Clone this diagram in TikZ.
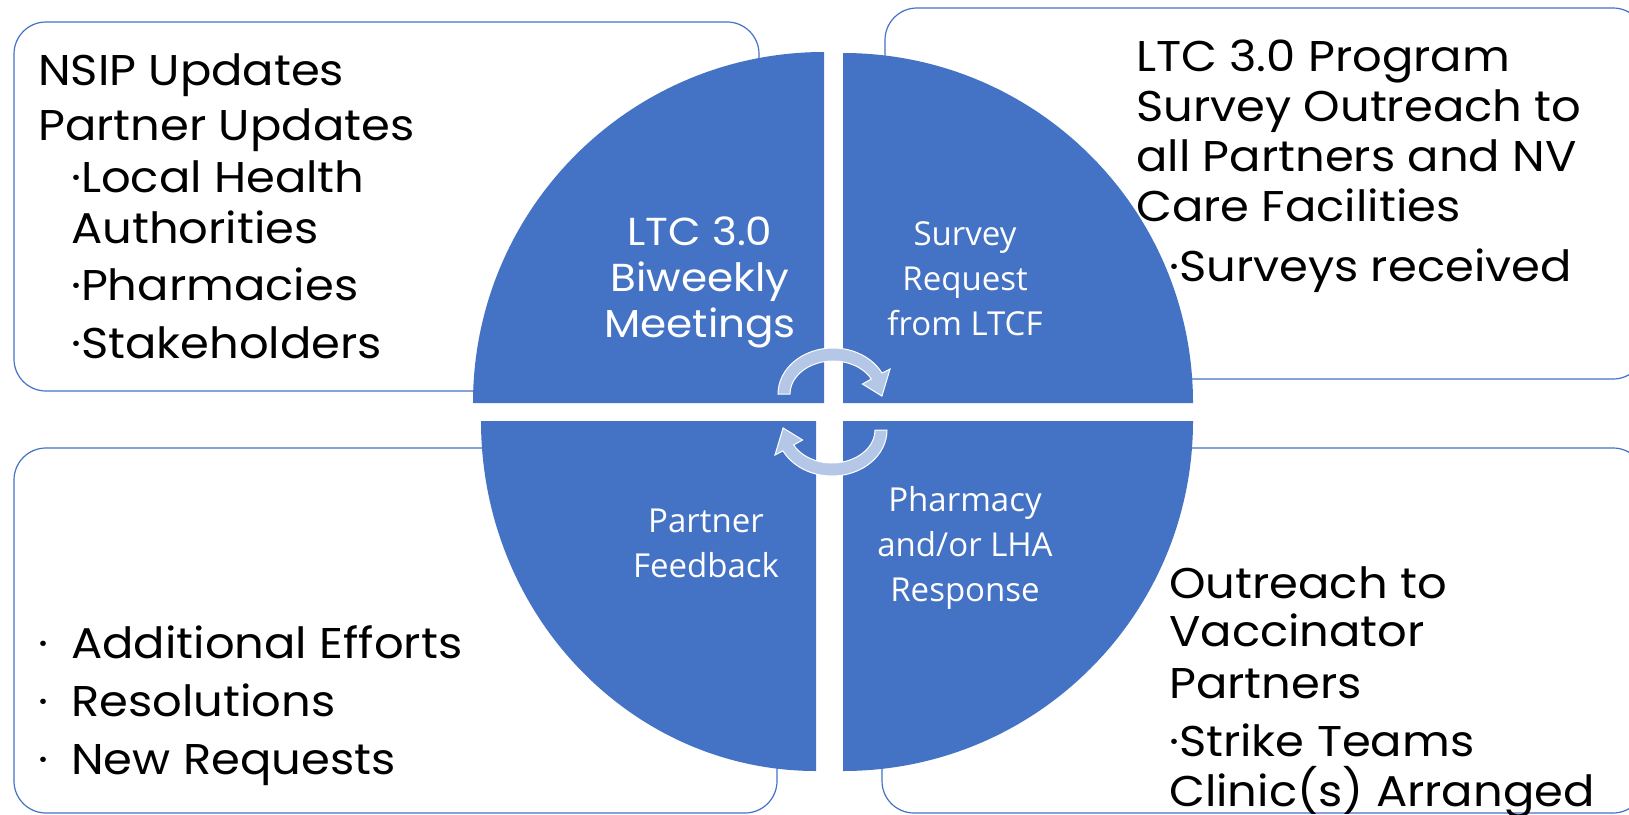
\documentclass[tikz,border=0pt]{standalone}
\usepackage{fontspec}
\setmainfont{Poppins}[FakeStretch=1.08]
\newfontfamily\quadfont{Open Sans}
\definecolor{quadblue}{HTML}{4472C4}
\definecolor{boxblue}{HTML}{4472C4}
\definecolor{turnblue}{HTML}{B4C7E7}
\tikzstyle{infobox} = [rectangle, rounded corners=32pt, draw=boxblue, line width=1.2pt, fill=white]
\tikzstyle{boxtext} = [anchor=north west, align=left, inner sep=0pt, font=\fontsize{43}{50}\selectfont]
\tikzstyle{quarter} = [fill=quadblue]
\tikzstyle{hubtext} = [anchor=north, align=center, inner sep=0pt, text=white, font=\fontsize{39}{46}\selectfont]
\tikzstyle{steptext} = [anchor=north, align=center, inner sep=0pt, text=white, font=\quadfont\fontsize{33}{45}\selectfont]
\tikzstyle{turnarrow} = [fill=turnblue, draw=white, line width=1pt]

\begin{document}
\begin{tikzpicture}[x=1pt, y=1pt]
        \useasboundingbox (0,0) rectangle (1629,-814);

        % outer boxes
        \node (updbox) [infobox, minimum width=745pt, minimum height=369pt] at (386.5,-206.5) {};
        \node (surveybox) [infobox, minimum width=760pt, minimum height=371pt] at (1265,-193.5) {};
        \node (effortbox) [infobox, minimum width=763pt, minimum height=365pt] at (395.5,-630.5) {};
        \node (outreachbox) [infobox, minimum width=763pt, minimum height=365pt] at (1263.5,-630.5) {};

        % the four quarters
        \fill[quarter] (824,-403) -- ++(-351,0) arc[start angle=180, end angle=90, radius=351] -- cycle;
        \fill[quarter] (843,-403) -- ++(0,350) arc[start angle=90, end angle=0, radius=350] -- cycle;
        \fill[quarter] (843,-421) -- ++(350,0) arc[start angle=0, end angle=-90, radius=350] -- cycle;
        \fill[quarter] (816,-421) -- ++(0,-350) arc[start angle=270, end angle=180, x radius=335, y radius=350] -- cycle;

        % box texts
        \node (updtext) [boxtext] at (38,-53) {NSIP Updates\\[5pt]Partner Updates\\[2pt]\hspace*{33pt}·Local Health\\[1pt]\hspace*{33pt}Authorities\\[7pt]\hspace*{33pt}·Pharmacies\\[8pt]\hspace*{33pt}·Stakeholders};
        \node (surveytext) [boxtext] at (1136,-40) {LTC 3.0 Program\\Survey Outreach to\\all Partners and NV\\Care Facilities\\[10pt]\hspace*{33pt}·Surveys received};
        \node (efforttext) [boxtext] at (38,-625) {\makebox[33pt][l]{·}Additional Efforts\\[8pt]\makebox[33pt][l]{·}Resolutions\\[8pt]\makebox[33pt][l]{·}New Requests};
        \node (outreachtext) [boxtext] at (1169,-566) {Outreach to\\[-2pt]Vaccinator\\[2pt]Partners\\[8pt]·Strike Teams\\Clinic(s) Arranged};

        % quarter texts
        \node (meetings) [hubtext] at (700,-217) {LTC 3.0\\Biweekly\\Meetings};
        \node (request) [steptext] at (965,-221) {Survey\\Request\\from LTCF};
        \node (response) [steptext] at (965,-486) {Pharmacy\\and/or LHA\\Response};
        \node (feedback) [steptext] at (706,-509) {Partner\\Feedback};

        % turning arrows
        \coordinate (upturn) at (833,-394);
        \coordinate (downturn) at (832,-430);
        \filldraw[turnarrow] (upturn) ++(180:55 and 46) arc[start angle=180, end angle=27, x radius=55, y radius=46]
                -- ([shift={(27:64 and 55)}]upturn) -- ([shift={(-3:49 and 40)}]upturn)
                -- ([shift={(27:33 and 22)}]upturn) -- ([shift={(27:43 and 33)}]upturn)
                arc[start angle=27, end angle=180, x radius=43, y radius=33] -- cycle;
        \filldraw[turnarrow] (downturn) ++(0:55 and 46) arc[start angle=0, end angle=-153, x radius=55, y radius=46]
                -- ([shift={(-153:64 and 55)}]downturn) -- ([shift={(-183:49 and 40)}]downturn)
                -- ([shift={(-153:33 and 22)}]downturn) -- ([shift={(-153:43 and 33)}]downturn)
                arc[start angle=-153, end angle=0, x radius=43, y radius=33] -- cycle;
\end{tikzpicture}
\end{document}
